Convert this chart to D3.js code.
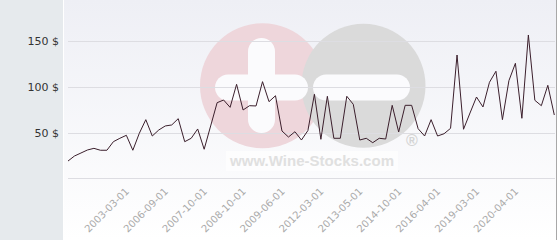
<!DOCTYPE html>
<html>
<head>
<meta charset="utf-8">
<script src="https://cdn.jsdelivr.net/npm/d3@7"></script>
<style>
  body { margin: 0; background: #fff; }
  svg { display: block; font-family: "DejaVu Sans", sans-serif; }
</style>
</head>
<body>
<div class="chart"></div>
<script>
// price per bottle, one value per sale (76 sales)
var prices = [18.9, 24.4, 27.7, 31.0, 32.8, 30.7, 30.7, 40.1, 43.8, 47.1,
              30.7, 49.3, 64.2, 46.3, 52.9, 57.3, 58.4, 65.3, 40.1, 43.8,
              54.0, 31.8, 57.3, 82.8, 85.7, 77.7, 102.9, 74.8, 79.5, 79.2,
              105.8, 83.9, 90.4, 51.8, 45.2, 51.0, 41.9, 52.3, 92.0, 42.7,
              89.8, 43.8, 43.8, 89.8, 81.0, 41.9, 43.8, 39.0, 43.8, 43.0,
              79.9, 50.7, 79.9, 79.9, 54.3, 46.3, 64.2, 46.3, 48.8, 54.7,
              135.0, 53.7, 71.5, 89.0, 78.1, 105.1, 117.2, 64.2, 106.9, 125.9,
              65.7, 156.9, 85.4, 79.5, 101.8, 69.3];

// the dates shown on the x axis and the sale they belong to
var tickLabels = ["2003-03-01", "2006-09-01", "2007-10-01", "2008-10-01", "2009-06-01",
                  "2012-03-01", "2013-05-01", "2014-10-01", "2016-04-01", "2019-03-01", "2020-04-01"];
var tickIndex = [9, 15, 21, 27, 33, 39, 45, 51, 57, 63, 69];

var yTicks = [50, 100, 150];

function draw(){
  var w = 560, h = 240;

  var svg = d3.select(".chart")
              .append("svg")
              .attr("width", w)
              .attr("height", h);

  //Background: grey left panel and light gradient behind the plot
  var grad = svg.append("defs").append("linearGradient")
                .attr("id", "bg").attr("x1", 0).attr("y1", 0).attr("x2", 0).attr("y2", 1);
  grad.append("stop").attr("offset", "0%").attr("stop-color", "#eeeff5");
  grad.append("stop").attr("offset", "100%").attr("stop-color", "#ffffff");

  svg.append("rect").attr("x", 0).attr("y", 0).attr("width", 63).attr("height", h).attr("fill", "#e6eaed");
  svg.append("rect").attr("x", 64).attr("y", 0).attr("width", 492).attr("height", h).attr("fill", "url(#bg)");
  svg.append("line").attr("x1", 556.5).attr("x2", 556.5).attr("y1", 0).attr("y2", h)
     .attr("stroke", "#a8a8a8");

  //Scales
  var x = d3.scalePoint()
            .domain(d3.range(prices.length))
            .range([68, 554.3]);

  var y = d3.scaleLinear()
            .domain([0, 150])
            .range([178.3, 41.3]);

  //Watermark
  var wm = svg.append("g").attr("class", "watermark");
  wm.append("circle").attr("cx", 262.5).attr("cy", 85.7).attr("r", 62.5).attr("fill", "#eed6db");
  wm.append("circle").attr("cx", 363.5).attr("cy", 85.7).attr("r", 62).attr("fill", "#dadada");
  wm.append("rect").attr("x", 248).attr("y", 38).attr("width", 27).attr("height", 95)
    .attr("rx", 13.5).attr("fill", "#fbfbfd");
  wm.append("rect").attr("x", 215).attr("y", 74.5).attr("width", 93).attr("height", 26)
    .attr("rx", 13).attr("fill", "#fbfbfd");
  wm.append("rect").attr("x", 313).attr("y", 74.5).attr("width", 97).attr("height", 26)
    .attr("rx", 13).attr("fill", "#fbfbfd");
  wm.append("rect").attr("x", 226).attr("y", 151).attr("width", 172).attr("height", 20)
    .attr("fill", "#ffffff").attr("opacity", 0.6);
  wm.append("text").attr("x", 230).attr("y", 165.7)
    .attr("textLength", 164)
    .style("font-family", "Liberation Sans")
    .style("font-weight", "bold")
    .style("font-size", "15px")
    .attr("fill", "#e0e0e0")
    .text("www.Wine-Stocks.com");
  wm.append("text").attr("x", 412).attr("y", 145.5)
    .attr("text-anchor", "middle")
    .style("font-family", "Liberation Sans")
    .style("font-weight", "bold")
    .style("font-size", "16px")
    .attr("fill", "#d4d4d4")
    .text("®");

  //Gridlines and the zero line
  svg.append("g")
     .selectAll("line")
     .data([0].concat(yTicks))
     .enter()
     .append("line")
     .attr("x1", 68).attr("x2", 555)
     .attr("y1", function(d){ return Math.round(y(d)) + 0.5; })
     .attr("y2", function(d){ return Math.round(y(d)) + 0.5; })
     .attr("stroke", "#dddde2");

  //Y labels
  var yAxis = d3.axisLeft(y)
                .tickValues(yTicks)
                .tickSize(0)
                .tickPadding(0)
                .tickFormat(function(d){ return d + " $"; });

  var gy = svg.append("g")
              .attr("transform", "translate(59,0)")
              .call(yAxis);
  gy.select(".domain").remove();
  gy.selectAll("text")
    .style("font-family", "DejaVu Sans")
    .style("font-size", "11px")
    .attr("fill", "#333");

  //X labels, rotated
  var xAxis = d3.axisBottom(x)
                .tickValues(tickIndex)
                .tickSize(0)
                .tickFormat(function(d, i){ return tickLabels[i]; });

  var gx = svg.append("g")
              .attr("transform", "translate(0,183)")
              .call(xAxis);
  gx.select(".domain").remove();
  gx.selectAll("text")
    .style("font-family", "DejaVu Sans")
    .style("font-size", "10px")
    .attr("fill", "#aaaaaa")
    .attr("text-anchor", "end")
    .attr("y", 0)
    .attr("dy", 0)
    .attr("transform", "translate(3,9) rotate(-45)");

  //The price line
  var line = d3.line()
               .x(function(d, i){ return x(i); })
               .y(function(d){ return y(d); });

  svg.append("path")
     .datum(prices)
     .attr("d", line)
     .attr("fill", "none")
     .attr("stroke", "#3b1f2c")
     .attr("stroke-width", 1)
     .attr("stroke-linejoin", "miter");
}

draw();
</script>
</body>
</html>
